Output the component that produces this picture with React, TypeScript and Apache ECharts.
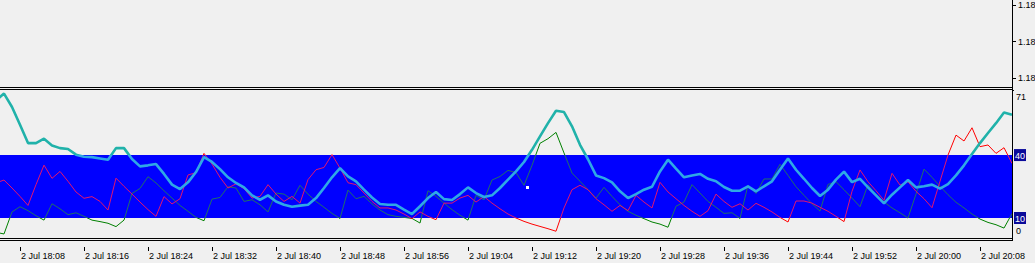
import React, { useEffect, useRef } from "react";
import * as echarts from "echarts";

// 1-minute bars, first bar 2 Jul 18:05
const DAY_LABEL = "2 Jul";
const FIRST_MINUTE = 18 * 60 + 5;
const BAR_COUNT = 128;
const CATEGORIES: string[] = Array.from({ length: BAR_COUNT }, (_, i) => {
  const t = FIRST_MINUTE + i;
  return `${DAY_LABEL} ${Math.floor(t / 60)}:${String(t % 60).padStart(2, "0")}`;
});
const LABEL_EVERY_MIN = 8;

// Indicator lines
const MAIN_LINE = [
  66.0, 69.3, 62.9, 54.4, 45.7, 45.7, 47.8, 44.6, 43.3, 42.9, 40.2, 39.2, 39.0, 38.4, 37.8, 43.3,
  43.3, 38.1, 34.6, 35.1, 35.7, 31.0, 25.9, 23.8, 27.0, 31.9, 39.0, 36.7, 33.3, 29.4, 26.7, 24.6,
  20.8, 18.7, 20.8, 17.9, 16.3, 15.4, 15.9, 16.3, 19.5, 24.3, 29.4, 33.8, 29.8, 27.5, 23.5, 19.8,
  16.7, 16.3, 16.3, 14.0, 11.9, 15.6, 19.5, 22.4, 19.0, 18.6, 21.4, 24.6, 21.9, 20.0, 20.8, 24.3,
  28.3, 32.2, 36.7, 42.5, 48.9, 55.2, 61.1, 60.5, 53.7, 44.9, 38.0, 30.3, 29.0, 27.0, 22.7, 19.5,
  21.4, 23.5, 24.9, 32.2, 37.8, 33.5, 29.4, 30.3, 31.0, 28.7, 27.5, 24.8, 23.0, 23.0, 25.1, 22.7,
  25.1, 27.5, 33.0, 38.4, 33.0, 28.7, 24.3, 20.5, 23.5, 28.3, 32.1, 27.1, 28.7, 24.6, 20.8, 17.0,
  21.1, 24.6, 28.1, 24.6, 25.1, 25.9, 24.0, 26.2, 30.3, 35.1, 40.5, 45.7, 50.5, 55.2, 60.3, 59.2,
];
const RED_LINE = [
  26.7, 28.1, 24.3, 20.3, 16.0, 25.9, 35.2, 28.9, 32.2, 27.5, 22.4, 19.4, 20.2, 17.9, 13.8, 29.0,
  25.1, 21.4, 17.6, 14.0, 10.8, 20.2, 16.7, 19.2, 30.5, 31.6, 40.8, 35.7, 29.4, 24.3, 26.3, 24.0,
  19.5, 20.3, 25.9, 21.4, 17.9, 20.3, 17.1, 28.3, 33.0, 34.1, 40.2, 33.8, 26.8, 25.9, 21.9, 17.9,
  14.8, 14.8, 13.8, 11.9, 9.7, 12.9, 10.8, 9.2, 17.1, 17.1, 19.5, 20.8, 17.6, 20.2, 17.1, 14.4,
  11.9, 10.0, 8.4, 7.1, 6.0, 4.9, 3.7, 14.8, 23.5, 25.6, 23.5, 19.2, 16.3, 13.2, 16.0, 13.5,
  20.8, 17.6, 14.8, 27.0, 22.4, 19.2, 16.0, 13.2, 10.8, 13.5, 21.4, 17.9, 15.1, 16.8, 13.8, 17.0,
  15.1, 12.9, 10.3, 8.1, 18.1, 18.1, 17.1, 15.1, 13.2, 10.8, 8.3, 22.7, 32.9, 27.3, 23.0, 18.4,
  31.3, 25.7, 27.3, 22.7, 19.2, 14.9, 27.5, 40.0, 49.5, 46.7, 53.0, 44.0, 44.8, 40.8, 43.5, 36.0,
];
const GREEN_LINE = [
  3.2, 2.4, 12.9, 15.4, 13.5, 11.1, 9.0, 16.8, 14.4, 11.6, 12.5, 10.8, 9.0, 8.3, 7.5, 5.9,
  9.0, 21.7, 24.1, 29.7, 26.7, 23.0, 19.5, 16.0, 13.2, 10.3, 8.7, 19.0, 19.8, 24.9, 24.3, 17.9,
  18.7, 16.3, 12.9, 21.9, 21.4, 18.7, 25.6, 21.4, 17.9, 15.1, 12.2, 9.8, 23.3, 19.2, 20.3, 16.7,
  13.8, 11.6, 10.8, 10.3, 9.8, 7.6, 23.0, 20.3, 17.1, 14.0, 11.3, 9.0, 20.8, 18.7, 28.1, 29.8,
  32.7, 31.6, 25.6, 35.1, 45.6, 47.8, 50.8, 41.0, 31.4, 27.5, 23.5, 19.5, 24.6, 20.3, 16.3, 13.2,
  11.3, 9.7, 8.1, 7.1, 5.6, 15.6, 17.6, 25.9, 21.9, 17.9, 15.1, 12.2, 12.5, 9.8, 25.7, 21.7,
  28.6, 28.6, 35.6, 30.3, 24.9, 20.8, 16.8, 13.3, 26.0, 27.3, 23.5, 19.5, 15.4, 25.9, 21.1, 17.6,
  14.8, 12.5, 10.0, 21.4, 33.3, 29.4, 25.1, 21.1, 17.5, 14.8, 11.9, 9.5, 7.9, 6.8, 5.2, 12.1,
];

const LEVELS = [10, 40];
const IND_MIN = 0;
const IND_MAX = 71;
const IND_LABELS = [0, 10, 40, 71];
const PRICE_MIN = 1.184881;
const PRICE_MAX = 1.186068;
const PRICE_LABELS = [1.185, 1.1855, 1.186];

const FONT = "Liberation Sans";
const BG = "#f0f0f0";

function showLabel(index: number): boolean {
  return (FIRST_MINUTE + index) % LABEL_EVERY_MIN === 0;
}

function bandPieces(outColor: string, inColor: string) {
  return [
    { lt: LEVELS[0], color: outColor },
    { gte: LEVELS[0], lte: LEVELS[1], color: inColor },
    { gt: LEVELS[1], color: outColor },
  ];
}

export default function App() {
  const ref = useRef<HTMLDivElement>(null);
  useEffect(() => {
    document.body.style.margin = "0";
    document.body.style.background = BG;
    if (!ref.current) return;
    const chart = echarts.init(ref.current, null, { renderer: "svg" });
    const frame = { stroke: "#000", lineWidth: 1 };
    chart.setOption({
      animation: false,
      backgroundColor: BG,
      grid: [
        { left: 0, right: 22, top: 0, height: 87, show: false, containLabel: false, outerBoundsMode: "none" },
        { left: -4, right: 23, top: 90, bottom: 24, show: false, containLabel: false, outerBoundsMode: "none" },
      ],
      xAxis: [
        { type: "value", gridIndex: 0, show: false, min: 1, max: 2, axisLine: { onZero: false } },
        {
          type: "category",
          gridIndex: 1,
          data: CATEGORIES,
          boundaryGap: false,
          offset: 8,
          axisLine: { show: false, onZero: false },
          axisTick: { show: true, length: 4, interval: showLabel, lineStyle: { color: "#000" } },
          axisLabel: {
            interval: showLabel,
            align: "left",
            margin: 4,
            padding: [0, 0, 0, 1],
            color: "#000",
            fontFamily: FONT,
            fontSize: 9,
          },
          splitLine: { show: false },
        },
      ],
      yAxis: [
        {
          type: "value",
          gridIndex: 0,
          position: "right",
          min: PRICE_MIN,
          max: PRICE_MAX,
          axisLine: { show: false, onZero: false },
          splitLine: { show: false },
          axisTick: { show: true, length: 3, customValues: PRICE_LABELS, lineStyle: { color: "#000" } },
          axisLabel: {
            customValues: PRICE_LABELS,
            margin: 5,
            color: "#000",
            fontFamily: FONT,
            fontSize: 9,
            formatter: (v: number) => v.toFixed(4),
          },
        },
        {
          type: "value",
          gridIndex: 1,
          position: "right",
          min: IND_MIN,
          max: IND_MAX,
          axisLine: { show: false, onZero: false },
          splitLine: { show: false },
          axisTick: { show: true, length: 2, customValues: [IND_MAX], lineStyle: { color: "#000" } },
          axisLabel: {
            customValues: IND_LABELS,
            margin: 2,
            color: "#000",
            fontFamily: FONT,
            fontSize: 9,
            formatter: (v: number) => {
              if (LEVELS.includes(v)) return `{lvl|${v}}`;
              if (v === IND_MAX) return `{top|${v}}`;
              return `{bot|${v}}`;
            },
            rich: {
              lvl: {
                backgroundColor: "#0a0a9a",
                color: "#fff",
                fontFamily: FONT,
                fontSize: 9,
                padding: [2, 1, 1, 1],
              },
              top: { color: "#000", fontFamily: FONT, fontSize: 9, padding: [14, 0, 0, 2] },
              bot: { color: "#000", fontFamily: FONT, fontSize: 9, padding: [0, 0, 16, 2] },
            },
          },
        },
      ],
      visualMap: [
        { type: "piecewise", show: false, seriesIndex: 1, dimension: 1, pieces: bandPieces("#008000", "#1f6f66") },
        { type: "piecewise", show: false, seriesIndex: 2, dimension: 1, pieces: bandPieces("#ff0000", "#e3146e") },
        { type: "piecewise", show: false, seriesIndex: 3, dimension: 1, pieces: bandPieces("#20b2aa", "#2ea8e6") },
      ],
      series: [
        {
          name: "band",
          type: "line",
          xAxisIndex: 1,
          yAxisIndex: 1,
          data: [],
          z: 1,
          markArea: {
            silent: true,
            itemStyle: { color: "#0000ff", opacity: 1 },
            data: [[{ yAxis: LEVELS[0] }, { yAxis: LEVELS[1] }]],
          },
        },
        {
          name: "-DI",
          type: "line",
          xAxisIndex: 1,
          yAxisIndex: 1,
          data: GREEN_LINE,
          symbol: "none",
          z: 3,
          lineStyle: { width: 1 },
        },
        {
          name: "+DI",
          type: "line",
          xAxisIndex: 1,
          yAxisIndex: 1,
          data: RED_LINE,
          symbol: "none",
          z: 4,
          lineStyle: { width: 1 },
        },
        {
          name: "ADX",
          type: "line",
          xAxisIndex: 1,
          yAxisIndex: 1,
          data: MAIN_LINE,
          symbol: "none",
          z: 5,
          lineStyle: { width: 2.6 },
        },
      ],
      graphic: [
        { type: "line", z: 10, shape: { x1: 1012.5, y1: 0, x2: 1012.5, y2: 241 }, style: frame },
        { type: "line", z: 10, shape: { x1: 0, y1: 87.5, x2: 1013, y2: 87.5 }, style: frame },
        { type: "line", z: 10, shape: { x1: 0, y1: 89.5, x2: 1013, y2: 89.5 }, style: frame },
        { type: "line", z: 10, shape: { x1: 0, y1: 238.5, x2: 1013, y2: 238.5 }, style: frame },
        { type: "line", z: 10, shape: { x1: 0, y1: 240.5, x2: 1013, y2: 240.5 }, style: frame },
        { type: "rect", z: 10, shape: { x: 526, y: 186, width: 3, height: 3 }, style: { fill: "#ffffff" } },
      ],
    });
    return () => chart.dispose();
  }, []);
  return <div ref={ref} style={{ width: 1035, height: 263, background: BG }} />;
}
